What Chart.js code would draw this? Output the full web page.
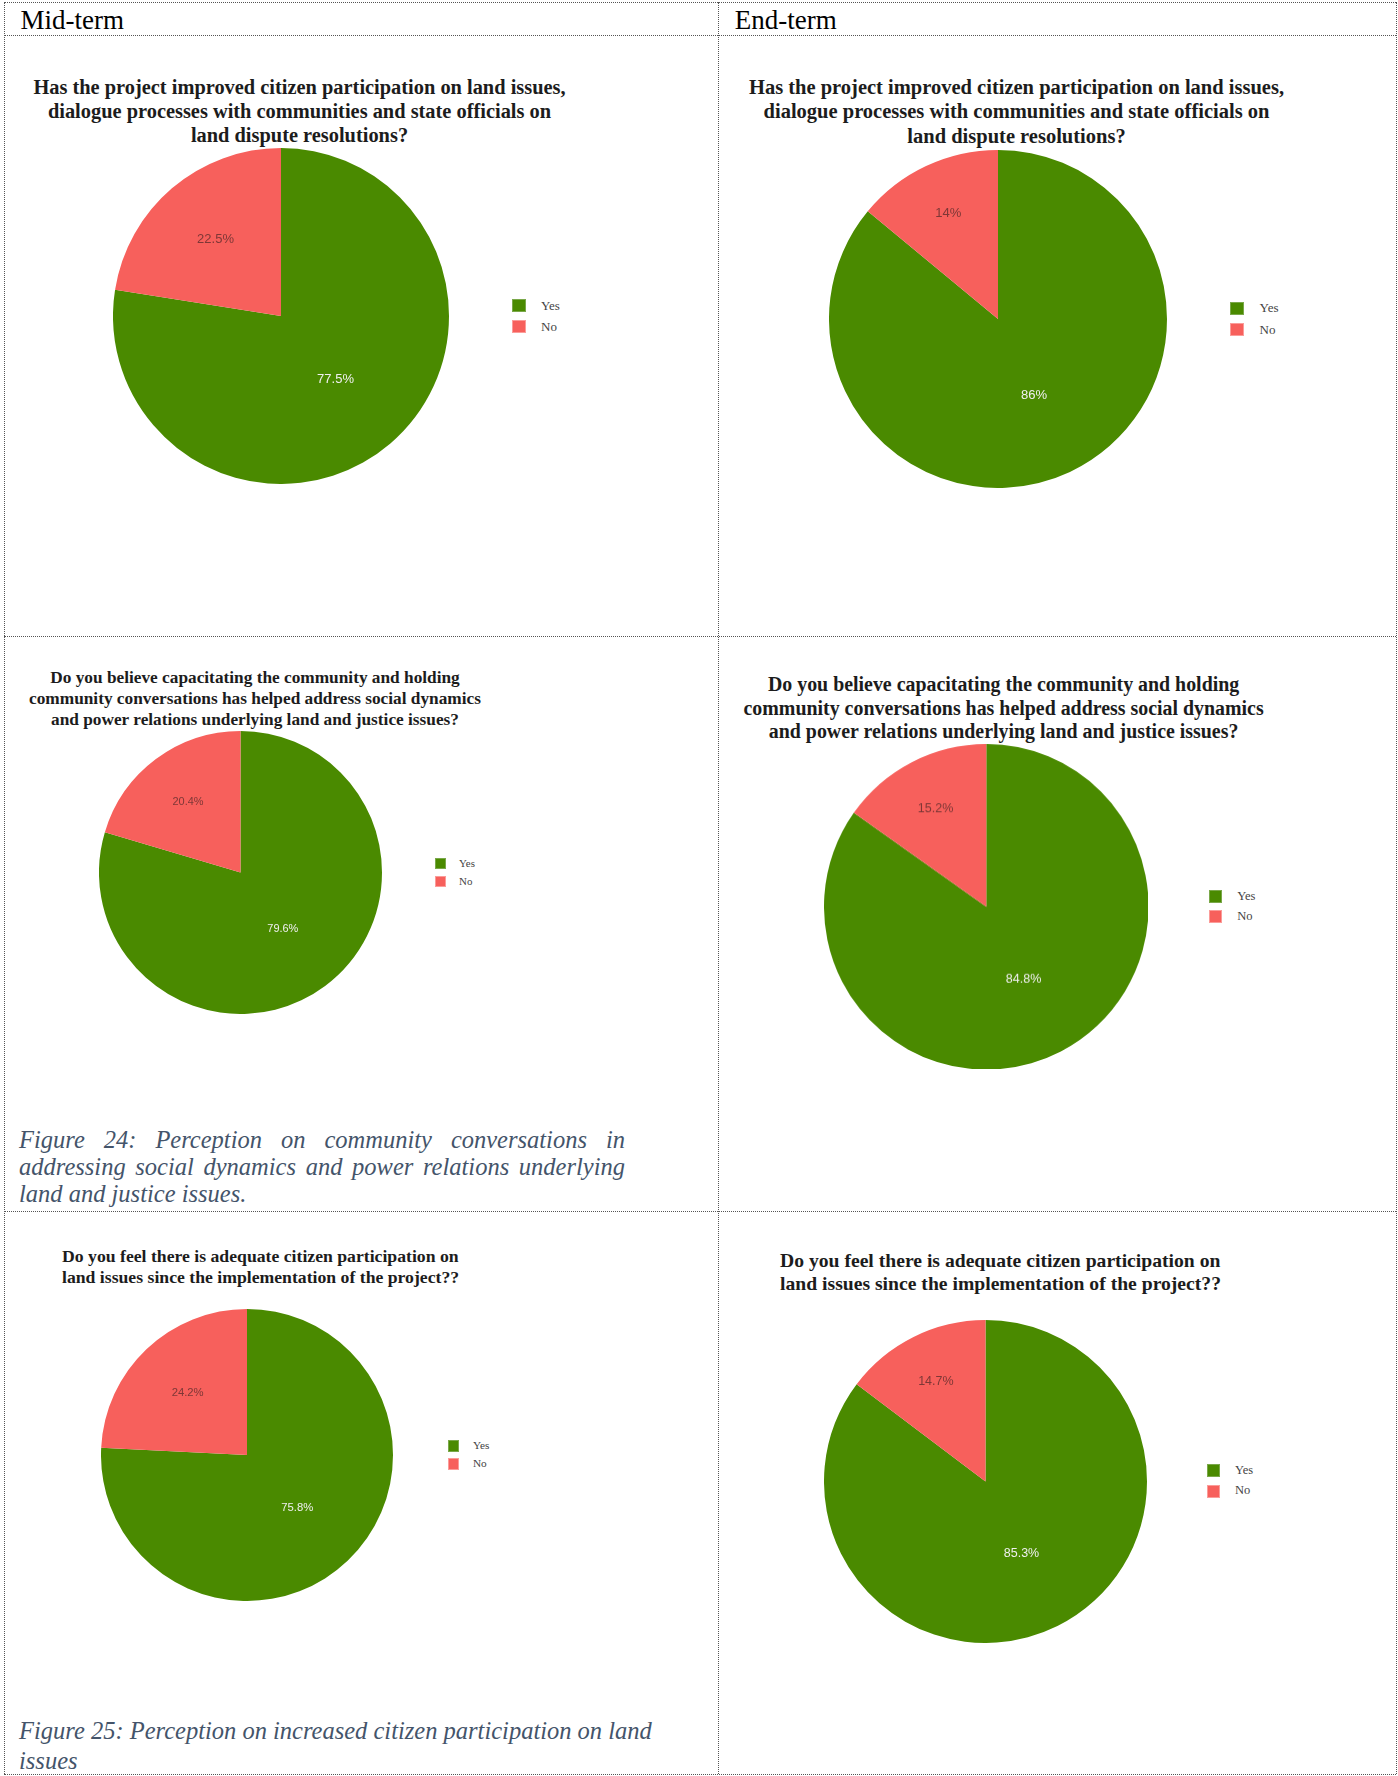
<!DOCTYPE html>
<html>
<head>
<meta charset="utf-8">
<title>Mid-term vs End-term perception</title>
<script src="https://cdn.jsdelivr.net/npm/chart.js@4.4.0/dist/chart.umd.min.js"></script>
<style>
  html, body { margin: 0; padding: 0; background: #fff; }
  body { width: 1398px; height: 1776px; position: relative; overflow: hidden; font-family: "Liberation Serif", "Times New Roman", serif; }
  .hline { position: absolute; height: 0; border-top: 1px dotted #555; }
  .vline { position: absolute; width: 0; border-left: 1px dotted #555; }
  .colhead { position: absolute; font-size: 27px; line-height: 30px; color: #000; white-space: nowrap; }
  .qtitle { position: absolute; font-weight: bold; color: #1c1c1c; white-space: nowrap; }
  .pie { position: absolute; }
  .legend { position: absolute; color: #444; font-family: "Liberation Serif", serif; }
  .legend .swatch { position: absolute; box-sizing: border-box; }
  .legend .txt { position: absolute; white-space: nowrap; }
  .caption { position: absolute; font-style: italic; color: #44546a; }
  .caption div { white-space: nowrap; }
  .caption .just { text-align: justify; text-align-last: justify; white-space: normal; }
</style>
</head>
<body>
<script>
// ------------------- Data -------------------
const columnHeaders = ["Mid-term", "End-term"];
const answerLabels = ["Yes", "No"];

const question1Lines = [
  "Has the project improved citizen participation on land issues,",
  "dialogue processes with communities and state officials on",
  "land dispute resolutions?"
];
const question2Lines = [
  "Do you believe capacitating the community and holding",
  "community conversations has helped address social dynamics",
  "and power relations underlying land and justice issues?"
];
const question3Lines = [
  "Do you feel there is adequate citizen participation on",
  "land issues since the implementation of the project??"
];

// percentages [Yes, No]
const midTermQ1 = [77.5, 22.5];
const endTermQ1 = [86, 14];
const midTermQ2 = [79.6, 20.4];
const endTermQ2 = [84.8, 15.2];
const midTermQ3 = [75.8, 24.2];
const endTermQ3 = [85.3, 14.7];

const figure24Lines = [
  "Figure 24: Perception on community conversations in",
  "addressing social dynamics and power relations underlying",
  "land and justice issues."
];
const figure25Lines = [
  "Figure 25: Perception on increased citizen participation on land",
  "issues"
];

// ------------------- Layout / style -------------------
const sliceColors = ["#4a8a00", "#f7605c"];
const labelColors = ["#f0f0f0", "rgba(95,45,45,0.8)"];

const panels = [
  { values: midTermQ1, lines: question1Lines, align: "center", tx: 299.5, ty: 87, tSize: 20.4, tLH: 24, cx: 281, cy: 316, r: 168, labelRadius: [0.5, 0.6] },
  { values: endTermQ1, lines: question1Lines, align: "center", tx: 1016.5, ty: 87, tSize: 20.5, tLH: 24.5, cx: 998, cy: 319, r: 169, labelRadius: [0.5, 0.69] },
  { values: midTermQ2, lines: question2Lines, align: "center", tx: 255, ty: 678.6, tSize: 17.3, tLH: 20.8, cx: 240, cy: 872.5, r: 141.5, labelRadius: [0.5, 0.62] },
  { values: endTermQ2, lines: question2Lines, align: "center", tx: 1003.6, ty: 685, tSize: 19.9, tLH: 23.5, cx: 986, cy: 906.5, r: 162.3, labelRadius: [0.5, 0.68] },
  { values: midTermQ3, lines: question3Lines, align: "left", tx: 62, ty: 1256, tSize: 17.7, tLH: 21, cx: 247, cy: 1455, r: 146, labelRadius: [0.5, 0.59] },
  { values: endTermQ3, lines: question3Lines, align: "left", tx: 780, ty: 1260.6, tSize: 19.65, tLH: 23.2, cx: 985, cy: 1481, r: 161.5, labelRadius: [0.5, 0.69] }
];

// ------------------- Helpers -------------------
function addEl(cls, css, html) {
  const el = document.createElement("div");
  el.className = cls;
  Object.assign(el.style, css);
  if (html !== undefined) el.innerHTML = html;
  document.body.appendChild(el);
  return el;
}

function drawTable() {
  const L = 4, R = 1396, T = 2, B = 1774, mid = 718;
  [T, 35, 636, 1211, B].forEach(y => addEl("hline", { left: L + "px", top: y + "px", width: (R - L) + "px" }));
  [L, mid, R].forEach(x => addEl("vline", { left: x + "px", top: T + "px", height: (B - T) + "px" }));
  addEl("colhead", { left: "20.6px", top: "5px" }, columnHeaders[0]);
  addEl("colhead", { left: "734.7px", top: "5px" }, columnHeaders[1]);
}

function drawTitle(p) {
  const css = {
    top: (p.ty - p.tLH / 2) + "px",
    fontSize: p.tSize + "px",
    lineHeight: p.tLH + "px",
    textAlign: p.align
  };
  if (p.align === "center") {
    css.left = (p.tx - 400) + "px";
    css.width = "800px";
  } else {
    css.left = p.tx + "px";
  }
  addEl("qtitle", css, p.lines.join("<br>"));
}

function drawLegend(p) {
  const s = p.r / 168;
  const box = addEl("legend", { left: (p.cx + 231 * s) + "px", top: (p.cy - 10.5 * s) + "px", fontSize: (13 * s) + "px" });
  answerLabels.forEach((lab, i) => {
    const y = i * 21 * s;
    const sw = document.createElement("div");
    sw.className = "swatch";
    Object.assign(sw.style, {
      left: "0px", top: (y - 6.7 * s) + "px",
      width: (13.5 * s) + "px", height: (13.5 * s) + "px",
      background: sliceColors[i],
      border: "1px solid " + (i === 0 ? "#7aa84a" : "#fb9c99")
    });
    box.appendChild(sw);
    const tx = document.createElement("div");
    tx.className = "txt";
    tx.textContent = lab;
    Object.assign(tx.style, { left: (29 * s) + "px", top: (y - 8 * s) + "px", lineHeight: (16 * s) + "px" });
    box.appendChild(tx);
  });
}

const sliceLabels = {
  id: "sliceLabels",
  afterDatasetsDraw(chart, args, opts) {
    const ctx = chart.ctx;
    const meta = chart.getDatasetMeta(0);
    const values = chart.data.datasets[0].data;
    ctx.save();
    ctx.font = opts.size + "px 'Liberation Sans', Arial, sans-serif";
    ctx.textAlign = "center";
    ctx.textBaseline = "middle";
    meta.data.forEach((arc, i) => {
      const midAngle = (arc.startAngle + arc.endAngle) / 2;
      const dist = arc.outerRadius * opts.radius[i];
      ctx.fillStyle = labelColors[i];
      ctx.fillText(values[i] + "%", arc.x + Math.cos(midAngle) * dist, arc.y + Math.sin(midAngle) * dist);
    });
    ctx.restore();
  }
};

function drawPie(p) {
  const size = 2 * p.r;
  const wrap = addEl("pie", { left: (p.cx - size / 2) + "px", top: (p.cy - size / 2) + "px", width: size + "px", height: size + "px" });
  const canvas = document.createElement("canvas");
  wrap.appendChild(canvas);
  new Chart(canvas, {
    type: "pie",
    data: {
      labels: answerLabels,
      datasets: [{
        data: p.values,
        backgroundColor: sliceColors,
        borderWidth: 0,
        hoverOffset: 0
      }]
    },
    options: {
      responsive: true,
      maintainAspectRatio: false,
      animation: false,
      events: [],
      layout: { padding: 0 },
      plugins: {
        legend: { display: false },
        tooltip: { enabled: false },
        sliceLabels: { size: 13 * p.r / 168, radius: p.labelRadius }
      }
    },
    plugins: [sliceLabels]
  });
}

function drawCaption(lines, left, width, firstY, lh) {
  const cap = addEl("caption", { left: left + "px", top: (firstY - lh / 2) + "px", width: width + "px", fontSize: "24.5px", lineHeight: lh + "px" });
  lines.forEach((t, i) => {
    const d = document.createElement("div");
    d.textContent = t;
    if (width && i < lines.length - 1) d.className = "just";
    cap.appendChild(d);
  });
}

// ------------------- Render -------------------
drawTable();
panels.forEach(p => {
  drawTitle(p);
  drawPie(p);
  drawLegend(p);
});
drawCaption(figure24Lines, 19, 606, 1139, 27);
drawCaption(figure25Lines, 19, 0, 1731, 30);
</script>
</body>
</html>
